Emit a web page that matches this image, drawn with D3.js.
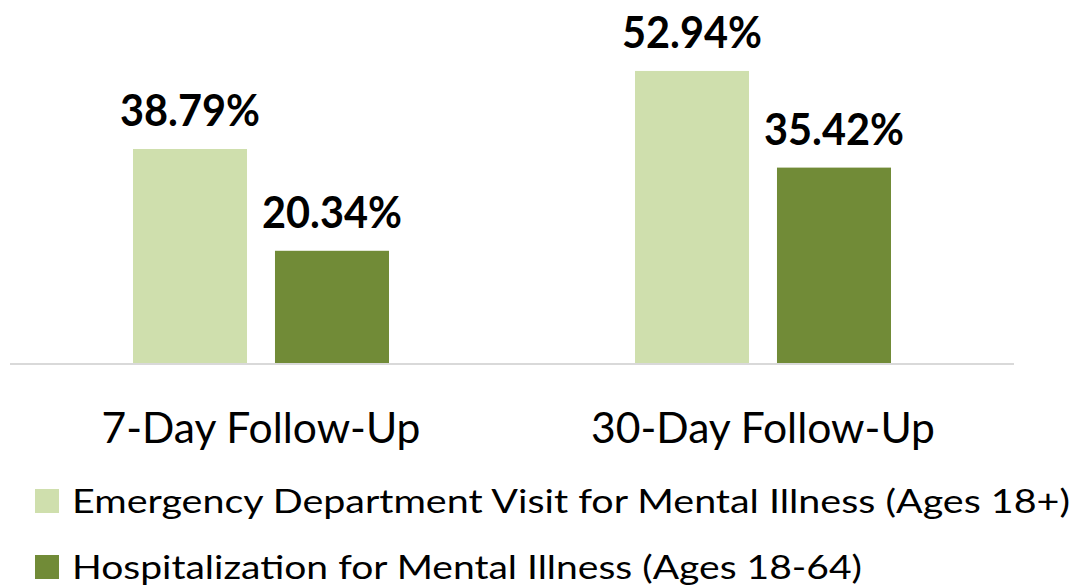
<!DOCTYPE html>
<html>
<head>
<meta charset="utf-8">
<script src="https://cdn.jsdelivr.net/npm/d3@7"></script>
<style>
  body { margin: 0; background: #fff; }
  svg { display: block; font-family: Lato, "Open Sans", sans-serif; }
</style>
</head>
<body>
<div id="chart"></div>
<script>
// chart data
const categories = ['7-Day Follow-Up', '30-Day Follow-Up'];
const seriesNames = [
  'Emergency Department Visit for Mental Illness (Ages 18+)',
  'Hospitalization for Mental Illness (Ages 18-64)',
];
const edValues = [38.79, 52.94];
const hospValues = [20.34, 35.42];
const seriesColors = ['#cfdfad', '#718b37'];

const width = 1076;
const height = 585;
const baseY = 363;
const groupWidth = 256;

const svg = d3.select('#chart').append('svg')
    .attr('width', width)
    .attr('height', height);

const x0 = d3.scaleBand()
    .domain(categories)
    .range([10, 1014])
    .padding(0);

const x1 = d3.scaleBand()
    .domain([0, 1])
    .range([(x0.bandwidth() - groupWidth) / 2, (x0.bandwidth() + groupWidth) / 2])
    .paddingInner(0.197)
    .paddingOuter(0);

const y = d3.scaleLinear()
    .domain([0, 60])
    .range([baseY, baseY - 331]);

const rows = [];
categories.forEach((cat, i) => {
  rows.push({cat: cat, s: 0, v: edValues[i]});
  rows.push({cat: cat, s: 1, v: hospValues[i]});
});

// baseline
svg.append('line')
    .attr('x1', x0.range()[0])
    .attr('x2', x0.range()[1])
    .attr('y1', baseY + 1)
    .attr('y2', baseY + 1)
    .style('stroke', '#d9d9d9')
    .style('stroke-width', 2);

const bars = svg.append('g').attr('name', 'bars');
bars.selectAll('rect')
    .data(rows)
    .enter()
    .append('rect')
    .attr('x', (d) => x0(d.cat) + x1(d.s))
    .attr('y', (d) => y(d.v))
    .attr('width', x1.bandwidth())
    .attr('height', (d) => y(0) - y(d.v))
    .attr('fill', (d) => seriesColors[d.s]);

// value labels
bars.selectAll('text')
    .data(rows)
    .enter()
    .append('text')
    .attr('x', (d) => x0(d.cat) + x1(d.s) + x1.bandwidth() / 2)
    .attr('y', (d) => y(d.v) - 23)
    .attr('text-anchor', 'middle')
    .attr('font-size', 44)
    .attr('font-weight', 'bold')
    .attr('fill', '#000')
    .attr('textLength', 140)
    .attr('lengthAdjust', 'spacingAndGlyphs')
    .text((d) => d.v.toFixed(2) + '%');

// category axis labels
const catWidths = [319, 344];
svg.append('g').attr('name', 'categories')
    .selectAll('text')
    .data(categories)
    .enter()
    .append('text')
    .attr('x', (d) => x0(d) + x0.bandwidth() / 2)
    .attr('y', 443)
    .attr('text-anchor', 'middle')
    .attr('font-size', 43)
    .attr('fill', '#000')
    .attr('textLength', (d, i) => catWidths[i])
    .attr('lengthAdjust', 'spacingAndGlyphs')
    .text((d) => d);

// legend
const legendWidths = [998, 790];
const legend = svg.append('g').attr('name', 'legend');
const items = legend.selectAll('g')
    .data(seriesNames)
    .enter()
    .append('g')
    .attr('transform', (d, i) => `translate(35, ${489 + i * 66})`);
items.append('rect')
    .attr('width', 24)
    .attr('height', 24)
    .attr('fill', (d, i) => seriesColors[i]);
items.append('text')
    .attr('x', 37)
    .attr('y', 24)
    .attr('font-size', 33)
    .attr('fill', '#000')
    .attr('textLength', (d, i) => legendWidths[i])
    .attr('lengthAdjust', 'spacingAndGlyphs')
    .text((d) => d);
</script>
</body>
</html>
